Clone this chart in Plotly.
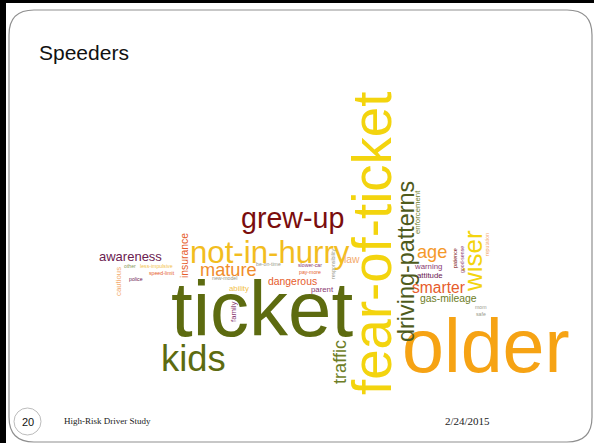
import plotly.graph_objects as go

# ---------------- data ----------------
words = [
    "ticket", "older", "fear-of-ticket", "kids", "not-in-hurry", "grew-up",
    "wiser", "driving-patterns", "age", "traffic", "mature", "smarter",
    "awareness", "gas-mileage", "insurance", "dangerous", "law",
    "cautious", "ability", "attitude", "enforcement", "warning", "family", "parent",
    "speed-limit", "pay-more", "be-on-time", "less-impulsive", "other",
    "new-model", "slower-car", "responsibility", "patience",
    "good-sense", "mom", "safe", "reputation", "police",
]
counts = [
    30, 29, 21, 14, 12, 11,
    10, 9, 7, 7, 7, 6,
    5, 4, 4, 4, 4,
    3, 3, 3, 3, 3, 3, 3,
    2, 2, 2, 2, 2,
    2, 2, 2, 2,
    2, 2, 2, 2, 2,
]

title = "Speeders"
footer_left = "High-Risk Driver Study"
footer_right = "2/24/2015"
slide_no = "20"

# ---------------- placement / style (layout only) ----------------
PX_PER_COUNT = 2.6
FONT = "Liberation Sans, Arial, sans-serif"

OLIVE = "#5d6b10"
DOLIVE = "#4f5b1c"
LOLIVE = "#6d7d26"
GOLIVE = "#8a9a5a"
YELLOW = "#f3d40e"
GOLD = "#f2bd1f"
ORANGE = "#f6a314"
AGEOR = "#f5992a"
MATOR = "#f08c2c"
RED = "#e65c2c"
DRED = "#7a0d0d"
PURP = "#6b2050"
LPURP = "#8a3a72"
TAN = "#f3aa6c"
LYEL = "#f2c24a"
GREY = "#9a9a8a"

place = {
    "ticket": (262, 309, 0, OLIVE),
    "older": (486, 346, 0, ORANGE),
    "fear-of-ticket": (372, 244, -90, YELLOW),
    "kids": (193, 358, 0, OLIVE),
    "not-in-hurry": (270, 252, 0, GOLD),
    "grew-up": (292, 218, 0, DRED),
    "wiser": (473, 261, -90, YELLOW),
    "driving-patterns": (406, 262, -90, DOLIVE),
    "age": (432, 252, 0, AGEOR),
    "traffic": (340, 362, -90, LOLIVE),
    "mature": (228, 270, 0, MATOR),
    "smarter": (438, 287, 0, RED),
    "awareness": (130, 256, 0, PURP),
    "gas-mileage": (448, 298, 0, LOLIVE),
    "insurance": (184, 256, -90, RED),
    "dangerous": (292, 281, 0, RED),
    "law": (352, 259, 0, TAN),
    "cautious": (118, 282, -90, TAN),
    "ability": (239, 288, 0, LYEL),
    "attitude": (430, 275, 0, PURP),
    "enforcement": (417, 212, -90, LOLIVE),
    "warning": (428, 266, 0, LPURP),
    "family": (233, 312, -90, LPURP),
    "parent": (322, 289, 0, LPURP),
    "speed-limit": (162, 273, 0, RED),
    "pay-more": (310, 271.5, 0, RED),
    "be-on-time": (268, 264, 0, GREY),
    "less-impulsive": (156, 266, 0, LYEL),
    "other": (130, 266, 0, GOLIVE),
    "new-model": (224, 278, 0, GREY),
    "slower-car": (310, 265, 0, LPURP),
    "responsibility": (333, 264, -90, GREY),
    "patience": (455, 258, -90, DRED),
    "good-sense": (462, 260, -90, LPURP),
    "mom": (481, 307, 0, GREY),
    "safe": (481, 314, 0, GREY),
    "reputation": (487, 245, -90, TAN),
    "police": (136, 279, 0, PURP),
}

fig = go.Figure()
fig.add_trace(go.Scatter(x=[10, 590], y=[10, 440], mode="markers",
                         marker=dict(opacity=0), hoverinfo="skip", showlegend=False))

annotations = []
for w, c in zip(words, counts):
    x, y, ang, col = place[w]
    annotations.append(dict(
        x=x, y=y, xref="x", yref="y", text=w, showarrow=False,
        textangle=ang, xanchor="center", yanchor="middle",
        font=dict(family=FONT, size=c * PX_PER_COUNT, color=col),
    ))

annotations += [
    dict(x=37, y=52, xref="x", yref="y", text=title, showarrow=False,
         xanchor="left", yanchor="middle",
         font=dict(family="Liberation Sans, Arial, sans-serif", size=21, color="#111111")),
    dict(x=27.5, y=421.5, xref="x", yref="y", text=slide_no, showarrow=False,
         xanchor="center", yanchor="middle",
         font=dict(family="Liberation Sans, Arial, sans-serif", size=11, color="#111111")),
    dict(x=62, y=421, xref="x", yref="y", text=footer_left, showarrow=False,
         xanchor="left", yanchor="middle",
         font=dict(family="Liberation Serif, serif", size=9, color="#222222")),
    dict(x=492, y=421, xref="x", yref="y", text=footer_right, showarrow=False,
         xanchor="right", yanchor="middle",
         font=dict(family="Liberation Serif, serif", size=11, color="#222222")),
]

shapes = [
    dict(type="path", xref="x", yref="y",
         path="M 34,10 L 567,10 Q 592,10 592,35 L 592,417 Q 592,442 567,442 "
              "L 34,442 Q 9,442 9,417 L 9,35 Q 9,10 34,10 Z",
         line=dict(color="#8f8f8f", width=1.2), fillcolor="rgba(0,0,0,0)"),
    dict(type="circle", xref="x", yref="y", x0=14, x1=41, y0=408, y1=435,
         line=dict(color="#aaaaaa", width=0.8)),
    # outer frame: left and top edges of the slide picture
    dict(type="rect", xref="x", yref="y", x0=0, x1=6, y0=0, y1=443,
         fillcolor="#000000", line=dict(width=0), layer="above"),
    dict(type="rect", xref="x", yref="y", x0=0, x1=594, y0=0, y1=3,
         fillcolor="#000000", line=dict(width=0), layer="above"),
]

fig.update_layout(
    width=596, height=445,
    margin=dict(l=0, r=0, t=0, b=0, pad=0),
    paper_bgcolor="white", plot_bgcolor="white",
    xaxis=dict(range=[0, 596], visible=False, fixedrange=True),
    yaxis=dict(range=[445, 0], visible=False, fixedrange=True),
    annotations=annotations, shapes=shapes, showlegend=False,
)

fig.write_html(
    "out.html",
    config={"displayModeBar": False},
    post_script="document.body.style.margin='0px';",
)
